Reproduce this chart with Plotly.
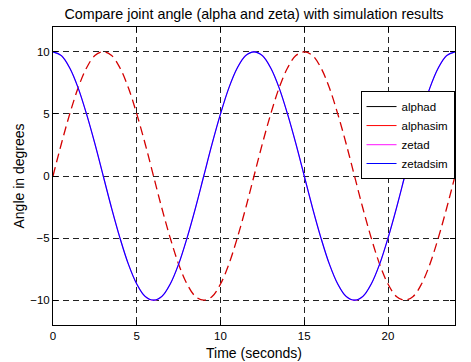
import plotly.graph_objects as go

# Time samples (seconds)
time_s = [i * 0.5 for i in range(49)]

# Desired and simulated joint angles (degrees)
alphad = [0, 2.6, 5.0, 7.1, 8.7, 9.7, 10, 9.7, 8.7, 7.1, 5.0, 2.6,
          0, -2.6, -5.0, -7.1, -8.7, -9.7, -10, -9.7, -8.7, -7.1, -5.0, -2.6,
          0, 2.6, 5.0, 7.1, 8.7, 9.7, 10, 9.7, 8.7, 7.1, 5.0, 2.6,
          0, -2.6, -5.0, -7.1, -8.7, -9.7, -10, -9.7, -8.7, -7.1, -5.0, -2.6, 0]
alphasim = list(alphad)
zetad = [10, 9.7, 8.7, 7.1, 5.0, 2.6, 0, -2.6, -5.0, -7.1, -8.7, -9.7,
         -10, -9.7, -8.7, -7.1, -5.0, -2.6, 0, 2.6, 5.0, 7.1, 8.7, 9.7,
         10, 9.7, 8.7, 7.1, 5.0, 2.6, 0, -2.6, -5.0, -7.1, -8.7, -9.7,
         -10, -9.7, -8.7, -7.1, -5.0, -2.6, 0, 2.6, 5.0, 7.1, 8.7, 9.7, 10]
zetadsim = list(zetad)

x_ticks = [0, 5, 10, 15, 20]
y_ticks = [-10, -5, 0, 5, 10]

FONT = "Liberation Sans, Arial, sans-serif"

fig = go.Figure()
# alphad and alphasim coincide; the red dashed simulated curve is what shows
fig.add_trace(go.Scatter(x=[None], y=[None], name="alphad", mode="lines",
                         line=dict(color="black", width=1)))
fig.add_trace(go.Scatter(x=[None], y=[None], name="alphasim", mode="lines",
                         line=dict(color="red", width=1, dash="solid")))
fig.add_trace(go.Scatter(x=time_s, y=alphasim, mode="lines", showlegend=False,
                         line=dict(color="#d40000", width=1.3, shape="spline", dash="9px,5px")))
fig.add_trace(go.Scatter(x=time_s, y=zetad, name="zetad", mode="lines",
                         line=dict(color="#ff40ff", width=1.2, shape="spline")))
fig.add_trace(go.Scatter(x=time_s, y=zetadsim, name="zetadsim", mode="lines",
                         line=dict(color="#0000ff", width=1.1, shape="spline")))

axis_common = dict(
    showline=True, linecolor="black", linewidth=1, mirror="ticks",
    ticks="inside", ticklen=5, tickcolor="black",
    showgrid=True, gridcolor="#222222", gridwidth=1, griddash="6px,4px",
    zeroline=False, tickfont=dict(family=FONT, size=11.5, color="black"),
    automargin=False,
)

fig.update_xaxes(range=[0, 24], tickvals=x_ticks,
                 title=dict(text="Time (seconds)", font=dict(family=FONT, size=14, color="black"), standoff=7),
                 **axis_common)
fig.update_yaxes(range=[-12, 12], tickvals=y_ticks,
                 title=dict(text="Angle in degrees", font=dict(family=FONT, size=14, color="black"), standoff=2),
                 **axis_common)

fig.update_layout(
    width=471, height=362,
    margin=dict(l=53, r=16, t=27, b=37, autoexpand=False),
    paper_bgcolor="white", plot_bgcolor="white",
    title=dict(text="Compare joint angle (alpha and zeta) with simulation results",
               font=dict(family=FONT, size=14.3, color="black"),
               x=0.5, xref="paper", xanchor="center", y=0.96, yanchor="middle"),
    legend=dict(x=0.765, y=0.785, xanchor="left", yanchor="top",
                bgcolor="white", bordercolor="black", borderwidth=1,
                font=dict(family=FONT, size=11.5, color="black"),
                tracegroupgap=0, itemwidth=30),
    showlegend=True,
)

fig.write_html("out.html")
